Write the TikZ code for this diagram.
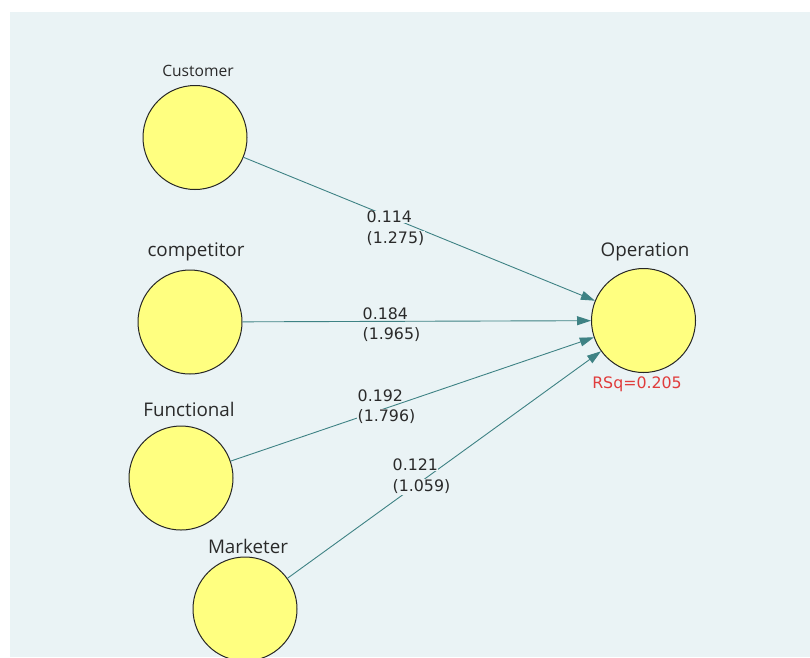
\documentclass[tikz,border=0pt]{standalone}
\usepackage{fontspec}
\setmainfont{Open Sans}
\newfontfamily\numfont{DejaVu Sans}
\usetikzlibrary{arrows.meta}
\definecolor{bgc}{HTML}{EAF3F5}
\definecolor{lvfill}{HTML}{FFFF80}
\definecolor{edgec}{HTML}{3E8284}
\definecolor{rsqc}{HTML}{E03C3C}
\definecolor{txtc}{HTML}{2A2A2A}
\tikzset{
  lv/.style={circle, draw=black!85, line width=1pt, fill=lvfill, minimum size=104pt, inner sep=0pt},
  lvlabel/.style={text=txtc, font=\fontsize{18.8}{18.8}\selectfont, inner sep=0pt},
  smalllabel/.style={text=txtc, font=\fontsize{15.6}{15.6}\selectfont, inner sep=0pt},
  coef/.style={text=txtc, font=\numfont\fontsize{15.8}{15.8}\selectfont, fill=bgc, inner sep=0.5pt, anchor=west},
  path/.style={draw=edgec, line width=0.9pt, -{Triangle[length=14pt,width=9pt]}},
}
\begin{document}
\begin{tikzpicture}[x=1pt,y=-1pt]
\useasboundingbox (0,0) rectangle (810,657);
\fill[white] (0,0) rectangle (810,657);
\fill[bgc] (10,12) rectangle (810,657);

\node[lv] (cust) at (195,137.5) {};
\node[lv] (comp) at (190,322) {};
\node[lv] (func) at (181,478) {};
\node[lv] (mark) at (245,609) {};
\node[lv] (oper) at (643.5,320.5) {};

\node[smalllabel] (custL) at (198,71) {Customer};
\node[lvlabel] (compL) at (196,252) {competitor};
\node[lvlabel] (funcL) at (189,409) {Functional};
\node[lvlabel] (markL) at (248,546) {Marketer};
\node[lvlabel] (operL) at (645,252) {Operation};
\node[text=rsqc, font=\numfont\fontsize{15.8}{15.8}\selectfont, inner sep=0pt] (rsq) at (637,384) {RSq=0.205};

\draw[path] (cust) -- (oper);
\draw[path] (comp) -- (oper);
\draw[path] (func) -- (oper);
\draw[path] (mark) -- (oper);

\node[coef] (c1a) at (366,217) {0.114};
\node[coef] (c1b) at (366,239) {(1.275)};
\node[coef] (c2a) at (362,314) {0.184};
\node[coef] (c2b) at (362,335) {(1.965)};
\node[coef] (c3a) at (357,396) {0.192};
\node[coef] (c3b) at (357,417) {(1.796)};
\node[coef] (c4a) at (392,465) {0.121};
\node[coef] (c4b) at (392,487) {(1.059)};
\end{tikzpicture}
\end{document}
